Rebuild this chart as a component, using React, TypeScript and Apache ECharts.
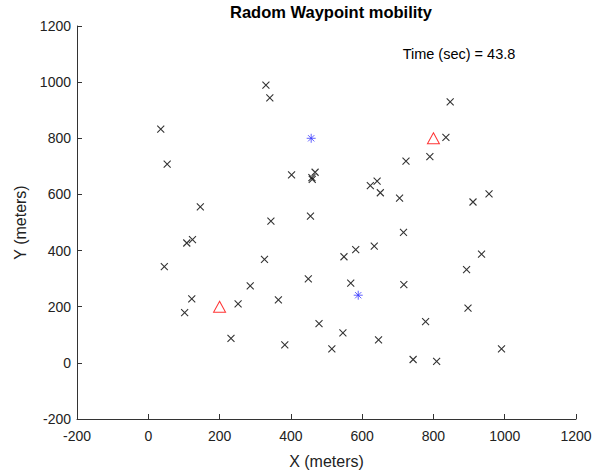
import React, { useEffect, useRef } from "react";
import * as echarts from "echarts";

// Mobile nodes (x, y) in meters
const nodeX = [35, 53, 146, 330, 341, 402, 468, 459, 460, 455, 344, 847, 835, 790, 723, 642, 623, 651, 705, 911, 956, 45, 108, 124, 122, 102, 252, 232, 286, 326, 365, 449, 479, 383, 515, 716, 634, 582, 549, 935, 893, 568, 717, 897, 778, 546, 646, 743, 809, 991];
const nodeY = [833, 708, 556, 989, 944, 670, 679, 660, 654, 523, 505, 930, 803, 735, 719, 647, 631, 606, 587, 573, 602, 343, 427, 439, 228, 179, 210, 87, 274, 369, 224, 299, 140, 64, 50, 465, 416, 403, 378, 387, 332, 284, 279, 195, 147, 107, 82, 12, 5, 50];
// Highlighted nodes (blue asterisks)
const starX = [457, 589];
const starY = [800, 241];
// Fixed stations (red triangles)
const triX = [200, 800];
const triY = [200, 800];

const axisTicks = [-200, 1200, 200]; // min, max, interval
const titleText = "Radom Waypoint mobility";
const timeText = "Time (sec) = 43.8";
const xName = "X (meters)";
const yName = "Y (meters)";

const FONT = "'Liberation Sans', Arial, Helvetica, sans-serif";
const AXIS_COLOR = "#333333";

export default function App() {
  const ref = useRef<HTMLDivElement>(null);
  useEffect(() => {
    if (!ref.current) return;
    const chart = echarts.init(ref.current, undefined, { renderer: "svg" });
    const zip = (xs: number[], ys: number[]) => xs.map((x, i) => [x, ys[i]]);
    const axisCommon = (name: string, gap: number, labelMargin: number) => ({
      type: "value" as const,
      min: axisTicks[0],
      max: axisTicks[1],
      interval: axisTicks[2],
      name,
      nameLocation: "middle" as const,
      nameGap: gap,
      nameTextStyle: { fontFamily: FONT, fontSize: 16, color: "#222" },
      axisLine: { show: true, onZero: false, lineStyle: { color: AXIS_COLOR, width: 1 } },
      axisTick: { show: true, inside: true, length: 5, lineStyle: { color: AXIS_COLOR } },
      axisLabel: {
        fontFamily: FONT,
        fontSize: 14,
        color: "#222",
        margin: labelMargin,
        formatter: (v: number) => String(v),
      },
      splitLine: { show: false },
    });
    chart.setOption({
      animation: false,
      backgroundColor: "#ffffff",
      title: {
        text: titleText,
        left: 326,
        top: -2,
        textAlign: "center",
        textStyle: { fontFamily: FONT, fontSize: 16.5, fontWeight: "bold", color: "#000" },
      },
      grid: { left: 77, right: 32, top: 26, bottom: 51, outerBoundsMode: "none", containLabel: false },
      xAxis: axisCommon(xName, 34, 10),
      yAxis: axisCommon(yName, 49, 6),
      graphic: [
        {
          type: "text",
          x: 459,
          y: 54,
          style: {
            text: timeText,
            fontFamily: FONT,
            fontSize: 14.5,
            fill: "#000",
            align: "center",
            verticalAlign: "middle",
          },
        },
      ],
      series: [
        {
          type: "scatter",
          data: zip(nodeX, nodeY),
          symbol: "path://M0,0L10,10M10,0L0,10",
          symbolSize: 7,
          itemStyle: { color: "none", borderColor: "#000", borderWidth: 1.1 },
        },
        {
          type: "scatter",
          data: zip(starX, starY),
          symbol: "path://M0,5L10,5M5,0L5,10M1.5,1.5L8.5,8.5M8.5,1.5L1.5,8.5",
          symbolSize: 9,
          itemStyle: { color: "none", borderColor: "#3a3aff", borderWidth: 1 },
        },
        {
          type: "scatter",
          data: zip(triX, triY),
          symbol: "triangle",
          symbolSize: [12, 11],
          itemStyle: { color: "none", borderColor: "#ff0000", borderWidth: 1 },
        },
      ],
    });
    return () => chart.dispose();
  }, []);
  return (
    <div
      ref={ref}
      style={{ position: "fixed", left: 0, top: 0, width: 608, height: 470, background: "#fff" }}
    />
  );
}
